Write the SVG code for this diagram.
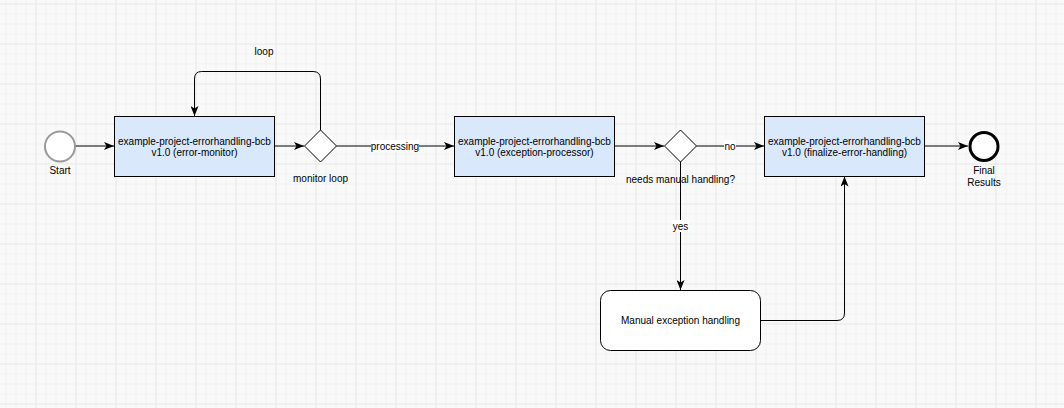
<svg xmlns="http://www.w3.org/2000/svg" width="1064" height="408" viewBox="0 0 1064 408">
  <defs>
    <pattern id="minor" x="5.5" y="3.5" width="10" height="10" patternUnits="userSpaceOnUse">
      <path d="M0,0 H10 M0,0 V10" fill="none" stroke="#ececec" stroke-width="1"/>
    </pattern>
    <pattern id="major" x="35.5" y="3.5" width="40" height="40" patternUnits="userSpaceOnUse">
      <path d="M0,0 H40 M0,0 V40" fill="none" stroke="#e0e0e0" stroke-width="1"/>
    </pattern>
    <marker id="arrow" viewBox="0 0 10 8" refX="10" refY="4" markerWidth="10" markerHeight="8" markerUnits="userSpaceOnUse" orient="auto">
      <path d="M0,0 L10,4 L0,8 L2.5,4 z" fill="#000"/>
    </marker>
    <style>
      text { font-family: "Liberation Sans", Arial, Helvetica, sans-serif; font-size: 10px; fill: #000; text-anchor: middle; }
      .task { fill: #dae8fc; stroke: #000; stroke-width: 1; }
      .gw { fill: #fff; stroke: #000; stroke-width: 1; }
      .edge { fill: none; stroke: #000; stroke-width: 1; marker-end: url(#arrow); }
      .lblbg { fill: #fff; }
    </style>
  </defs>
  <rect width="1064" height="408" fill="#f9f9f9"/>
  <rect width="1064" height="408" fill="url(#minor)"/>
  <rect width="1064" height="408" fill="url(#major)"/>

  <g id="connectors">
    <path class="edge" d="M75,146 H114"/>
    <path class="edge" d="M274.5,146 H304"/>
    <path class="edge" d="M320.5,130 V79 Q320.5,71.5 313,71.5 H201.5 Q194.5,71.5 194.5,79 V116"/>
    <path class="edge" d="M336.5,146 H454"/>
    <path class="edge" d="M614.5,146 H664"/>
    <path class="edge" d="M696.5,146 H764"/>
    <path class="edge" d="M924.5,146 H968"/>
    <path class="edge" d="M680.5,162 V290"/>
    <path class="edge" d="M760.5,320.5 H837 Q844.5,320.5 844.5,313 V176.5"/>
    <rect class="lblbg" x="371" y="140" width="48" height="12"/>
    <text x="395" y="149.5">processing</text>
    <rect class="lblbg" x="724" y="140" width="12" height="12"/>
    <text x="730" y="149.5">no</text>
    <rect class="lblbg" x="672" y="220" width="17" height="12"/>
    <text x="680.5" y="229.5">yes</text>
    <text x="264" y="54.5">loop</text>
  </g>

  <g id="start">
    <circle cx="60" cy="146.5" r="15" fill="#fff" stroke="#999" stroke-width="2"/>
    <text x="60" y="174">Start</text>
  </g>

  <g id="error-monitor">
    <rect class="task" x="114.5" y="116.5" width="160" height="60"/>
    <text x="194.5" y="144.5">example-project-errorhandling-bcb</text>
    <text x="194.5" y="156">v1.0 (error-monitor)</text>
  </g>

  <g id="monitor-loop">
    <path class="gw" d="M320.5,130 L336.5,146 L320.5,162 L304.5,146 Z"/>
    <text x="320.5" y="181.5">monitor loop</text>
  </g>

  <g id="exception-processor">
    <rect class="task" x="454.5" y="116.5" width="160" height="60"/>
    <text x="534.5" y="144.5">example-project-errorhandling-bcb</text>
    <text x="534.5" y="156">v1.0 (exception-processor)</text>
  </g>

  <g id="needs-manual">
    <path class="gw" d="M680.5,130 L696.5,146 L680.5,162 L664.5,146 Z"/>
    <text x="680.5" y="182.5">needs manual handling?</text>
  </g>

  <g id="finalize-error-handling">
    <rect class="task" x="764.5" y="116.5" width="160" height="60"/>
    <text x="844.5" y="144.5">example-project-errorhandling-bcb</text>
    <text x="844.5" y="156">v1.0 (finalize-error-handling)</text>
  </g>

  <g id="manual-handling">
    <rect x="600.5" y="290.5" width="160" height="60" rx="10" ry="10" fill="#fff" stroke="#000" stroke-width="1"/>
    <text x="680.5" y="324">Manual exception handling</text>
  </g>

  <g id="final-results">
    <circle cx="984" cy="146.5" r="14" fill="#fff" stroke="#000" stroke-width="3"/>
    <text x="984" y="174">Final</text>
    <text x="984" y="186">Results</text>
  </g>
</svg>
